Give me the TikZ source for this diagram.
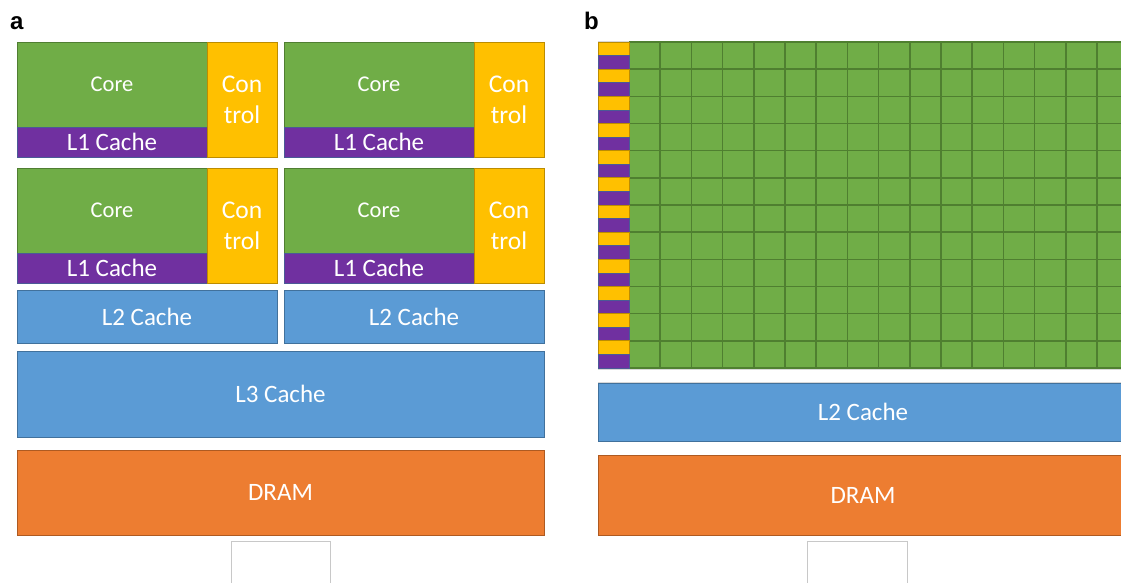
\documentclass[tikz,border=0pt]{standalone}
\usepackage{fontspec}
\setmainfont{Carlito}
\newfontfamily\panelfont{Liberation Sans}

\definecolor{coregreen}{HTML}{70AD47}
\definecolor{greenedge}{HTML}{507E32}
\definecolor{gridline}{HTML}{4F7F30}
\definecolor{ctrlyellow}{HTML}{FFC000}
\definecolor{yellowedge}{HTML}{BC8C00}
\definecolor{l1purple}{HTML}{7030A0}
\definecolor{purpleedge}{HTML}{4A5A96}
\definecolor{cacheblue}{HTML}{5B9BD5}
\definecolor{blueedge}{HTML}{41719C}
\definecolor{dramorange}{HTML}{ED7D31}
\definecolor{orangeedge}{HTML}{AE5A21}
\definecolor{frame}{HTML}{C8C8C8}

\tikzset{
  unit/.style={anchor=north west, inner sep=0pt, outer sep=0pt,
    line width=0.8pt, text=white, align=center},
  corebox/.style={unit, fill=coregreen, draw=greenedge,
    minimum width=190pt, minimum height=85pt, font=\fontsize{22.5}{26}\selectfont},
  l1box/.style={unit, fill=l1purple, draw=purpleedge,
    minimum width=190pt, minimum height=30pt, font=\fontsize{25}{28}\selectfont},
  ctrlbox/.style={unit, fill=ctrlyellow, draw=yellowedge,
    minimum width=70pt, minimum height=115pt, font=\fontsize{25.5}{31}\selectfont},
  cachebox/.style={unit, fill=cacheblue, draw=blueedge, font=\fontsize{25}{28}\selectfont},
  drambox/.style={unit, fill=dramorange, draw=orangeedge, font=\fontsize{25}{28}\selectfont},
  bigtext/.style={font=\fontsize{25}{28}\selectfont, text=white},
  panel/.style={anchor=base west, inner sep=0pt, font=\panelfont\bfseries\fontsize{24}{28}\selectfont},
  gridrule/.style={gridline, line width=1.6pt},
}

% one CPU core: core, its L1 cache and its control unit
\newcommand\cpucore[3]{%
  \node[corebox] (#1core) at (#2,#3) {Core};
  \node[l1box] (#1l1) at (#2,#3+85) {L1 Cache};
  \node[ctrlbox] (#1ctrl) at (#2+190,#3) {Con\\trol};
}

\begin{document}
\begin{tikzpicture}[x=1pt,y=-1pt]
\useasboundingbox (0,0) rectangle (1121,582);
\clip (0,0) rectangle (1121,582);

% ---------------- panel a: CPU ----------------
\node[panel] (labela) at (10,29) {a};

\cpucore{ul}{17}{42}
\cpucore{ur}{284}{42}
\cpucore{ll}{17}{168}
\cpucore{lr}{284}{168}

\node[cachebox, minimum width=260pt, minimum height=53pt] (l2left) at (17,290) {L2 Cache};
\node[cachebox, minimum width=260pt, minimum height=53pt] (l2right) at (284,290) {L2 Cache};
\node[cachebox, minimum width=527pt, minimum height=86pt] (l3) at (17,351) {L3 Cache};
\node[drambox, minimum width=527pt, minimum height=85pt] (drama) at (17,450) {DRAM};

\draw[frame, line width=1pt] (231,590) -- (231,541) -- (330,541) -- (330,590);

% ---------------- panel b: GPU ----------------
\node[panel] (labelb) at (584,29) {b};

\draw[frame!70, line width=0.8pt] (598,41) -- (1121,41);
\draw[frame!70, line width=0.8pt] (598,369.5) -- (1121,369.5);
\draw[frame!70, line width=0.8pt] (598,382) -- (1121,382);

% array of cores
\fill[coregreen] (629,42) rectangle (1125,368);
\foreach \i in {0,...,15}
  \draw[gridrule] (629+31.2*\i,42) -- (629+31.2*\i,368);
\foreach \j in {0,...,12}
  \draw[gridrule] (629,42+27.1667*\j) -- (1125,42+27.1667*\j);

% control / L1 strip
\foreach \j in {0,...,11}{
  \draw[fill=ctrlyellow, draw=yellowedge, line width=0.8pt]
    (598.5,42+27.1667*\j) rectangle (629,42+27.1667*\j+13.58);
  \draw[fill=l1purple, draw=purpleedge, line width=0.8pt]
    (598.5,42+27.1667*\j+13.58) rectangle (629,42+27.1667*\j+27.1667);
}

\node[cachebox, minimum width=530pt, minimum height=58pt] (l2b) at (598,383) {};
\node[bigtext] (l2btext) at (863,412) {L2 Cache};
\node[drambox, minimum width=530pt, minimum height=80pt] (dramb) at (598,455) {};
\node[bigtext] (drambtext) at (863,495) {DRAM};

\draw[frame, line width=1pt] (807,590) -- (807,541) -- (907,541) -- (907,590);
\end{tikzpicture}
\end{document}
